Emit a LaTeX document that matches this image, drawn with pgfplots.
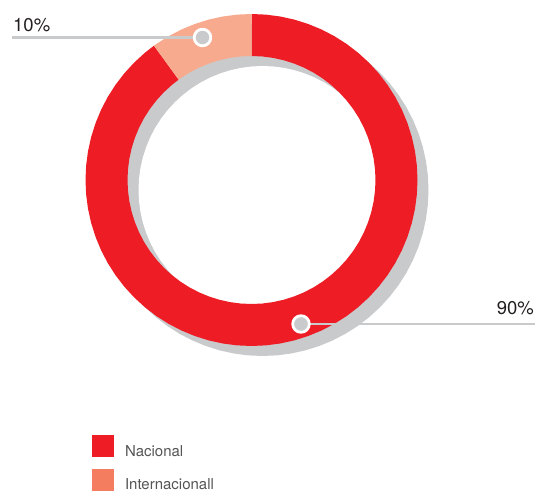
\documentclass[border=0pt]{standalone}
\usepackage{pgfplots}
\pgfplotsset{compat=1.18}
\usepackage{fontspec}
\setmainfont{TeX Gyre Heros}

\definecolor{cRed}{HTML}{EE1C25}
\definecolor{cSalmon}{HTML}{F8AA8E}
\definecolor{cShadow}{HTML}{C9CACC}
\definecolor{cLeg2}{HTML}{F47C5F}
\definecolor{cText}{HTML}{231F20}
\definecolor{cLegText}{HTML}{555557}

\begin{document}
\begin{tikzpicture}
\begin{axis}[
    width=538pt, height=493pt, scale only axis,
    xmin=-251.5, xmax=286.5, ymin=-313, ymax=180,
    ticks=none, axis line style={draw=none},
    clip=false,
    legend image code/.code={\fill[#1, draw=none] (0pt,-5.5pt) rectangle (22pt,16.5pt);},
    legend style={at={(axis cs:-159.5,-255)}, anchor=north west,
        draw=none, fill=none, inner sep=0pt, outer sep=0pt,
        nodes={inner sep=0pt, text=cLegText},
        font=\fontsize{15}{18}\selectfont,
        column sep=11pt, row sep=11pt},
    legend cell align=left,
]
% shadow ring (offset)
\addplot[draw=none, fill=cShadow, data cs=polar, xshift=11pt, yshift=-10pt, forget plot] coordinates {
(0,166) (5,166) (10,166) (15,166) (20,166) (25,166) (30,166) (35,166) (40,166) (45,166) (50,166) (55,166)
(60,166) (65,166) (70,166) (75,166) (80,166) (85,166) (90,166) (95,166) (100,166) (105,166) (110,166) (115,166)
(120,166) (125,166) (130,166) (135,166) (140,166) (145,166) (150,166) (155,166) (160,166) (165,166) (170,166) (175,166)
(180,166) (185,166) (190,166) (195,166) (200,166) (205,166) (210,166) (215,166) (220,166) (225,166) (230,166) (235,166)
(240,166) (245,166) (250,166) (255,166) (260,166) (265,166) (270,166) (275,166) (280,166) (285,166) (290,166) (295,166)
(300,166) (305,166) (310,166) (315,166) (320,166) (325,166) (330,166) (335,166) (340,166) (345,166) (350,166) (355,166)
};
\addplot[draw=none, fill=white, data cs=polar, xshift=11pt, yshift=-10pt, forget plot] coordinates {
(0,124) (5,124) (10,124) (15,124) (20,124) (25,124) (30,124) (35,124) (40,124) (45,124) (50,124) (55,124)
(60,124) (65,124) (70,124) (75,124) (80,124) (85,124) (90,124) (95,124) (100,124) (105,124) (110,124) (115,124)
(120,124) (125,124) (130,124) (135,124) (140,124) (145,124) (150,124) (155,124) (160,124) (165,124) (170,124) (175,124)
(180,124) (185,124) (190,124) (195,124) (200,124) (205,124) (210,124) (215,124) (220,124) (225,124) (230,124) (235,124)
(240,124) (245,124) (250,124) (255,124) (260,124) (265,124) (270,124) (275,124) (280,124) (285,124) (290,124) (295,124)
(300,124) (305,124) (310,124) (315,124) (320,124) (325,124) (330,124) (335,124) (340,124) (345,124) (350,124) (355,124)
};
% Nacional 90%
\addplot[draw=none, fill=cRed, data cs=polar, forget plot] coordinates {
(126,166) (130,166) (135,166) (140,166) (145,166) (150,166) (155,166) (160,166) (165,166) (170,166) (175,166)
(180,166) (185,166) (190,166) (195,166) (200,166) (205,166) (210,166) (215,166) (220,166) (225,166) (230,166) (235,166)
(240,166) (245,166) (250,166) (255,166) (260,166) (265,166) (270,166) (275,166) (280,166) (285,166) (290,166) (295,166)
(300,166) (305,166) (310,166) (315,166) (320,166) (325,166) (330,166) (335,166) (340,166) (345,166) (350,166) (355,166)
(360,166) (365,166) (370,166) (375,166) (380,166) (385,166) (390,166) (395,166) (400,166) (405,166) (410,166) (415,166)
(420,166) (425,166) (430,166) (435,166) (440,166) (445,166) (450,166)
(450,124) (445,124) (440,124) (435,124) (430,124) (425,124) (420,124)
(415,124) (410,124) (405,124) (400,124) (395,124) (390,124) (385,124) (380,124) (375,124) (370,124) (365,124) (360,124)
(355,124) (350,124) (345,124) (340,124) (335,124) (330,124) (325,124) (320,124) (315,124) (310,124) (305,124) (300,124)
(295,124) (290,124) (285,124) (280,124) (275,124) (270,124) (265,124) (260,124) (255,124) (250,124) (245,124) (240,124)
(235,124) (230,124) (225,124) (220,124) (215,124) (210,124) (205,124) (200,124) (195,124) (190,124) (185,124) (180,124)
(175,124) (170,124) (165,124) (160,124) (155,124) (150,124) (145,124) (140,124) (135,124) (130,124) (126,124)
};
% Internacional 10%
\addplot[draw=none, fill=cSalmon, data cs=polar, forget plot] coordinates {
(90,166) (95,166) (100,166) (105,166) (110,166) (115,166) (120,166) (125,166) (126,166)
(126,124) (125,124) (120,124) (115,124) (110,124) (105,124) (100,124) (95,124) (90,124)
};
% leader lines
\addplot[draw=cShadow, line width=2.6pt, forget plot] coordinates {(-239.2,142.5) (-49,142.5)};
\addplot[draw=cShadow, line width=2.6pt, forget plot] coordinates {(49.5,-144) (283.5,-144)};
\addplot[only marks, mark=*, mark size=8.3pt,
    mark options={fill=cShadow, draw=white, line width=2.8pt}, forget plot]
    coordinates {(-49,142.5) (49.5,-144)};
\node[anchor=base west, inner sep=0pt, text=cText, font=\fontsize{18.5}{20}\selectfont]
    at (axis cs:-238.5,148) {10\%};
\node[anchor=base east, inner sep=0pt, text=cText, font=\fontsize{18.5}{20}\selectfont]
    at (axis cs:282.5,-135) {90\%};
\addlegendimage{fill=cRed, draw=none}
\addlegendentry{Nacional}
\addlegendimage{fill=cLeg2, draw=none}
\addlegendentry{Internacionall}
\end{axis}
\end{tikzpicture}
\end{document}
